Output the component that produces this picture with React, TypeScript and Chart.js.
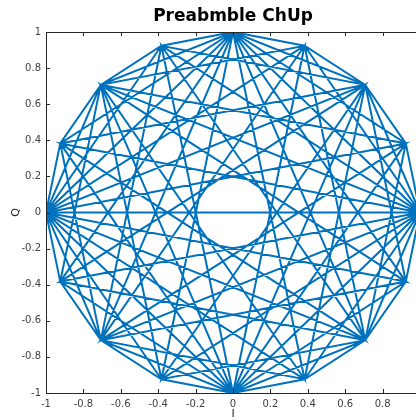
import { useEffect, useRef } from "react";
import { Chart, registerables } from "chart.js";

Chart.register(...registerables);

// 16-PSK constellation positions (index k -> angle k * 22.5 deg)
const pskI = [1, 0.9239, 0.7071, 0.3827, 0, -0.3827, -0.7071, -0.9239, -1, -0.9239, -0.7071, -0.3827, 0, 0.3827, 0.7071, 0.9239];
const pskQ = [0, 0.3827, 0.7071, 0.9239, 1, 0.9239, 0.7071, 0.3827, 0, -0.3827, -0.7071, -0.9239, -1, -0.9239, -0.7071, -0.3827];

// preamble samples as 16-PSK phase indices, 16 blocks of 16 samples
const preambleBlocks = [
  [0, 0, 0, 0, 0, 0, 0, 0, 0, 0, 0, 0, 0, 0, 0, 0],
  [0, 1, 2, 3, 4, 5, 6, 7, 8, 9, 10, 11, 12, 13, 14, 15],
  [0, 2, 4, 6, 8, 10, 12, 14, 0, 2, 4, 6, 8, 10, 12, 14],
  [0, 3, 6, 9, 12, 15, 2, 5, 8, 11, 14, 1, 4, 7, 10, 13],
  [0, 4, 8, 12, 0, 4, 8, 12, 0, 4, 8, 12, 0, 4, 8, 12],
  [0, 5, 10, 15, 4, 9, 14, 3, 8, 13, 2, 7, 12, 1, 6, 11],
  [0, 6, 12, 2, 8, 14, 4, 10, 0, 6, 12, 2, 8, 14, 4, 10],
  [0, 7, 14, 5, 12, 3, 10, 1, 8, 15, 6, 13, 4, 11, 2, 9],
  [0, 8, 0, 8, 0, 8, 0, 8, 0, 8, 0, 8, 0, 8, 0, 8],
  [0, 9, 2, 11, 4, 13, 6, 15, 8, 1, 10, 3, 12, 5, 14, 7],
  [0, 10, 4, 14, 8, 2, 12, 6, 0, 10, 4, 14, 8, 2, 12, 6],
  [0, 11, 6, 1, 12, 7, 2, 13, 8, 3, 14, 9, 4, 15, 10, 5],
  [0, 12, 8, 4, 0, 12, 8, 4, 0, 12, 8, 4, 0, 12, 8, 4],
  [0, 13, 10, 7, 4, 1, 14, 11, 8, 5, 2, 15, 12, 9, 6, 3],
  [0, 14, 12, 10, 8, 6, 4, 2, 0, 14, 12, 10, 8, 6, 4, 2],
  [0, 15, 14, 13, 12, 11, 10, 9, 8, 7, 6, 5, 4, 3, 2, 1],
];

const tickValues = [-1, -0.8, -0.6, -0.4, -0.2, 0, 0.2, 0.4, 0.6, 0.8, 1];
const titleText = "Preabmble ChUp";
const xLabel = "I";
const yLabel = "Q";

const axisColor = "#262626";
const lineColor = "#0072BD";
const fontFamily = "'DejaVu Sans', sans-serif";

function buildPoints() {
  const pts: { x: number; y: number }[] = [];
  preambleBlocks.forEach((block) => {
    block.forEach((k) => pts.push({ x: pskI[k], y: pskQ[k] }));
  });
  return pts;
}

const fmt = (v: number) => {
  const r = Math.round(v * 10) / 10;
  return r === 0 ? "0" : String(r);
};

const frame = {
  id: "frame",
  afterDatasetsDraw(chart: any) {
    const { ctx, chartArea: a } = chart;
    const xs = chart.scales.x;
    const ys = chart.scales.y;
    ctx.save();
    ctx.strokeStyle = axisColor;
    ctx.lineWidth = 1;
    ctx.beginPath();
    ctx.rect(Math.round(a.left) + 0.5, Math.round(a.top) + 0.5, Math.round(a.right - a.left), Math.round(a.bottom - a.top));
    const tl = 4;
    tickValues.forEach((v) => {
      const px = Math.round(xs.getPixelForValue(v)) + 0.5;
      ctx.moveTo(px, a.bottom);
      ctx.lineTo(px, a.bottom - tl);
      ctx.moveTo(px, a.top);
      ctx.lineTo(px, a.top + tl);
      const py = Math.round(ys.getPixelForValue(v)) + 0.5;
      ctx.moveTo(a.left, py);
      ctx.lineTo(a.left + tl, py);
      ctx.moveTo(a.right, py);
      ctx.lineTo(a.right - tl, py);
    });
    ctx.stroke();

    ctx.fillStyle = "#000";
    ctx.textAlign = "center";
    ctx.textBaseline = "middle";
    ctx.font = `bold 17px ${fontFamily}`;
    ctx.fillText(titleText, (a.left + a.right) / 2, 17);

    ctx.fillStyle = axisColor;
    ctx.font = `11px ${fontFamily}`;
    ctx.fillText(xLabel, (a.left + a.right) / 2, 414);
    ctx.translate(16, (a.top + a.bottom) / 2);
    ctx.rotate(-Math.PI / 2);
    ctx.fillText(yLabel, 0, 0);
    ctx.restore();
  },
};

export default function App() {
  const ref = useRef<HTMLCanvasElement | null>(null);

  useEffect(() => {
    if (!ref.current) return;
    const tickCfg = {
      font: { family: fontFamily, size: 10 },
      color: "#404040",
      autoSkip: false,
      maxRotation: 0,
      callback: (v: any) => fmt(Number(v)),
    };
    const chart = new Chart(ref.current, {
      type: "scatter",
      data: {
        datasets: [
          {
            data: buildPoints() as any,
            showLine: true,
            borderColor: lineColor,
            borderWidth: 2,
            pointRadius: 0,
            fill: false,
          },
        ],
      },
      options: {
        animation: false,
        responsive: false,
        layout: { padding: { top: 32, right: 20, left: 0, bottom: 0 } },
        plugins: {
          legend: { display: false },
          tooltip: { enabled: false },
          title: { display: false },
        },
        scales: {
          x: {
            type: "linear",
            min: -1,
            max: 1,
            grid: { display: false, drawTicks: false },
            border: { display: false },
            afterFit: (s: any) => {
              s.height = 27;
            },
            afterBuildTicks: (s: any) => {
              s.ticks = tickValues.map((v) => ({ value: v }));
            },
            ticks: { ...tickCfg, padding: 5 },
          },
          y: {
            type: "linear",
            min: -1,
            max: 1,
            grid: { display: false, drawTicks: false },
            border: { display: false },
            afterFit: (s: any) => {
              s.width = 46;
            },
            afterBuildTicks: (s: any) => {
              s.ticks = tickValues.map((v) => ({ value: v }));
            },
            ticks: { ...tickCfg, padding: 5 },
          },
        },
      },
      plugins: [frame],
    });
    return () => chart.destroy();
  }, []);

  return (
    <div style={{ position: "fixed", left: 0, top: 0, width: 416, height: 420, overflow: "hidden", background: "#fff" }}>
      <canvas ref={ref} width={440} height={420} style={{ display: "block" }} />
    </div>
  );
}
